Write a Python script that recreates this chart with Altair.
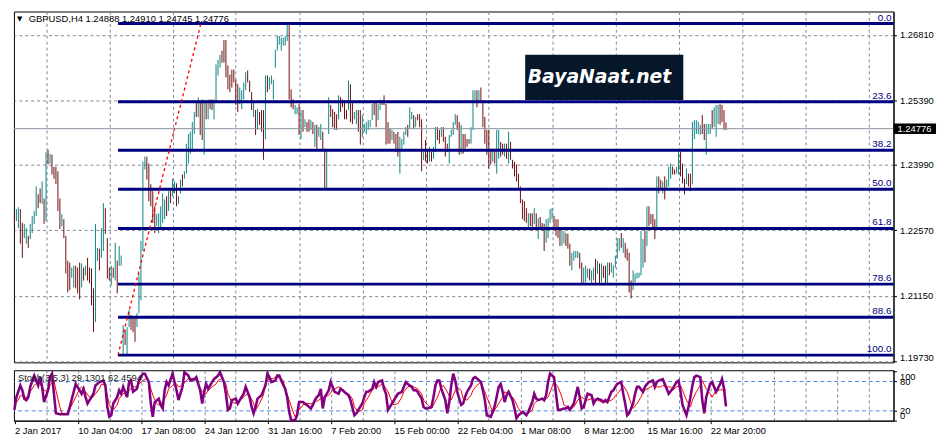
import altair as alt
import pandas as pd

# ---------------- data (GBPUSD H4) ----------------
highs = [
    1.2294, 1.2303, 1.2307, 1.2303, 1.2273, 1.2271, 1.2262, 1.2245, 1.2271, 1.2288,
    1.2299, 1.2352, 1.2335, 1.2348, 1.2363, 1.2326, 1.2427, 1.2432, 1.2423, 1.2421,
    1.2395, 1.2395, 1.2385, 1.2326, 1.2292, 1.2281, 1.2245, 1.2191, 1.2187, 1.2176,
    1.2180, 1.2180, 1.2176, 1.2187, 1.2185, 1.2176, 1.2180, 1.2197, 1.2176, 1.2174,
    1.2131, 1.2271, 1.2219, 1.2217, 1.2262, 1.2316, 1.2305, 1.2240, 1.2176, 1.2180,
    1.2176, 1.2230, 1.2191, 1.2223, 1.2202, 1.2051, 1.2041, 1.2047, 1.2084, 1.2073,
    1.2066, 1.2066, 1.2077, 1.2163, 1.2234, 1.2406, 1.2417, 1.2417, 1.2402, 1.2357,
    1.2342, 1.2309, 1.2292, 1.2294, 1.2309, 1.2337, 1.2324, 1.2331, 1.2342, 1.2346,
    1.2369, 1.2363, 1.2359, 1.2331, 1.2367, 1.2378, 1.2385, 1.2445, 1.2466, 1.2471,
    1.2492, 1.2514, 1.2535, 1.2546, 1.2535, 1.2541, 1.2535, 1.2539, 1.2541, 1.2541,
    1.2541, 1.2541, 1.2617, 1.2627, 1.2638, 1.2647, 1.2670, 1.2670, 1.2615, 1.2595,
    1.2606, 1.2606, 1.2584, 1.2574, 1.2567, 1.2561, 1.2578, 1.2600, 1.2604, 1.2582,
    1.2557, 1.2535, 1.2518, 1.2520, 1.2514, 1.2518, 1.2518, 1.2593, 1.2593, 1.2589,
    1.2593, 1.2584, 1.2649, 1.2679, 1.2679, 1.2675, 1.2675, 1.2679, 1.2703, 1.2705,
    1.2563, 1.2541, 1.2529, 1.2524, 1.2531, 1.2518, 1.2518, 1.2498, 1.2492, 1.2498,
    1.2496, 1.2492, 1.2486, 1.2486, 1.2481, 1.2488, 1.2471, 1.2434, 1.2434, 1.2546,
    1.2529, 1.2520, 1.2514, 1.2509, 1.2550, 1.2546, 1.2541, 1.2539, 1.2518, 1.2582,
    1.2574, 1.2535, 1.2514, 1.2518, 1.2518, 1.2518, 1.2507, 1.2488, 1.2492, 1.2496,
    1.2496, 1.2531, 1.2535, 1.2539, 1.2531, 1.2541, 1.2539, 1.2550, 1.2531, 1.2492,
    1.2477, 1.2475, 1.2471, 1.2466, 1.2471, 1.2460, 1.2455, 1.2471, 1.2481, 1.2486,
    1.2524, 1.2514, 1.2507, 1.2503, 1.2509, 1.2509, 1.2498, 1.2427, 1.2453, 1.2432,
    1.2438, 1.2427, 1.2438, 1.2481, 1.2481, 1.2475, 1.2481, 1.2481, 1.2460, 1.2445,
    1.2464, 1.2475, 1.2492, 1.2509, 1.2507, 1.2492, 1.2486, 1.2466, 1.2466, 1.2455,
    1.2455, 1.2481, 1.2561, 1.2561, 1.2561, 1.2561, 1.2567, 1.2539, 1.2503, 1.2475,
    1.2475, 1.2434, 1.2434, 1.2434, 1.2475, 1.2475, 1.2449, 1.2445, 1.2445, 1.2445,
    1.2471, 1.2449, 1.2410, 1.2406, 1.2400, 1.2380, 1.2352, 1.2324, 1.2320, 1.2305,
    1.2294, 1.2294, 1.2294, 1.2305, 1.2294, 1.2283, 1.2286, 1.2273, 1.2271, 1.2281,
    1.2283, 1.2303, 1.2305, 1.2288, 1.2281, 1.2281, 1.2262, 1.2256, 1.2256, 1.2251,
    1.2249, 1.2228, 1.2208, 1.2212, 1.2212, 1.2212, 1.2208, 1.2187, 1.2176, 1.2180,
    1.2174, 1.2174, 1.2170, 1.2176, 1.2195, 1.2191, 1.2185, 1.2185, 1.2180, 1.2180,
    1.2187, 1.2187, 1.2187, 1.2180, 1.2202, 1.2240, 1.2240, 1.2251, 1.2240, 1.2230,
    1.2217, 1.2208, 1.2148, 1.2170, 1.2163, 1.2165, 1.2165, 1.2256, 1.2238, 1.2256,
    1.2309, 1.2309, 1.2292, 1.2292, 1.2281, 1.2374, 1.2374, 1.2367, 1.2363, 1.2374,
    1.2367, 1.2395, 1.2402, 1.2395, 1.2389, 1.2395, 1.2434, 1.2427, 1.2402, 1.2369,
    1.2391, 1.2380, 1.2380, 1.2492, 1.2496, 1.2496, 1.2492, 1.2486, 1.2507, 1.2488,
    1.2488, 1.2488, 1.2488, 1.2518, 1.2524, 1.2529, 1.2529, 1.2531, 1.2529, 1.2518,
    1.2491,
]
lows = [
    1.2271, 1.2277, 1.2262, 1.2228, 1.2197, 1.2240, 1.2228, 1.2219, 1.2238, 1.2251,
    1.2271, 1.2288, 1.2305, 1.2316, 1.2314, 1.2271, 1.2277, 1.2400, 1.2402, 1.2378,
    1.2369, 1.2357, 1.2299, 1.2260, 1.2266, 1.2240, 1.2163, 1.2122, 1.2127, 1.2154,
    1.2133, 1.2131, 1.2120, 1.2107, 1.2133, 1.2148, 1.2159, 1.2148, 1.2142, 1.2094,
    1.2036, 1.2058, 1.2191, 1.2170, 1.2197, 1.2212, 1.2249, 1.2152, 1.2148, 1.2137,
    1.2154, 1.2148, 1.2120, 1.2180, 1.2180, 1.1989, 1.2008, 1.1985, 1.2047, 1.2041,
    1.2036, 1.2015, 1.2047, 1.2077, 1.2105, 1.2212, 1.2389, 1.2367, 1.2320, 1.2309,
    1.2273, 1.2251, 1.2266, 1.2251, 1.2260, 1.2273, 1.2281, 1.2288, 1.2299, 1.2316,
    1.2331, 1.2337, 1.2309, 1.2314, 1.2337, 1.2352, 1.2369, 1.2380, 1.2402, 1.2423,
    1.2432, 1.2466, 1.2503, 1.2503, 1.2464, 1.2453, 1.2421, 1.2498, 1.2498, 1.2520,
    1.2518, 1.2498, 1.2539, 1.2593, 1.2610, 1.2621, 1.2621, 1.2589, 1.2563, 1.2557,
    1.2567, 1.2578, 1.2529, 1.2514, 1.2531, 1.2520, 1.2541, 1.2561, 1.2578, 1.2557,
    1.2518, 1.2503, 1.2464, 1.2475, 1.2486, 1.2471, 1.2410, 1.2455, 1.2557, 1.2563,
    1.2574, 1.2541, 1.2610, 1.2647, 1.2660, 1.2647, 1.2658, 1.2658, 1.2668, 1.2541,
    1.2524, 1.2520, 1.2509, 1.2509, 1.2464, 1.2455, 1.2471, 1.2481, 1.2471, 1.2471,
    1.2475, 1.2466, 1.2438, 1.2434, 1.2460, 1.2453, 1.2432, 1.2348, 1.2348, 1.2466,
    1.2503, 1.2481, 1.2475, 1.2475, 1.2498, 1.2514, 1.2524, 1.2498, 1.2498, 1.2518,
    1.2492, 1.2488, 1.2498, 1.2488, 1.2471, 1.2443, 1.2460, 1.2471, 1.2466, 1.2475,
    1.2481, 1.2496, 1.2507, 1.2481, 1.2496, 1.2518, 1.2529, 1.2529, 1.2443, 1.2445,
    1.2445, 1.2453, 1.2445, 1.2427, 1.2417, 1.2380, 1.2434, 1.2443, 1.2464, 1.2460,
    1.2477, 1.2498, 1.2477, 1.2481, 1.2496, 1.2481, 1.2385, 1.2410, 1.2406, 1.2402,
    1.2406, 1.2406, 1.2412, 1.2427, 1.2453, 1.2445, 1.2460, 1.2449, 1.2417, 1.2427,
    1.2402, 1.2460, 1.2464, 1.2486, 1.2475, 1.2421, 1.2423, 1.2423, 1.2434, 1.2438,
    1.2445, 1.2445, 1.2475, 1.2535, 1.2524, 1.2535, 1.2535, 1.2481, 1.2445, 1.2421,
    1.2391, 1.2400, 1.2406, 1.2402, 1.2380, 1.2412, 1.2417, 1.2421, 1.2417, 1.2412,
    1.2402, 1.2410, 1.2391, 1.2374, 1.2363, 1.2346, 1.2316, 1.2281, 1.2277, 1.2273,
    1.2262, 1.2266, 1.2256, 1.2271, 1.2260, 1.2238, 1.2264, 1.2256, 1.2212, 1.2230,
    1.2240, 1.2273, 1.2281, 1.2262, 1.2245, 1.2240, 1.2223, 1.2223, 1.2228, 1.2223,
    1.2217, 1.2180, 1.2170, 1.2191, 1.2197, 1.2197, 1.2174, 1.2142, 1.2142, 1.2144,
    1.2154, 1.2148, 1.2142, 1.2148, 1.2142, 1.2163, 1.2142, 1.2144, 1.2154, 1.2142,
    1.2142, 1.2159, 1.2165, 1.2154, 1.2176, 1.2195, 1.2212, 1.2219, 1.2208, 1.2197,
    1.2191, 1.2122, 1.2109, 1.2127, 1.2144, 1.2152, 1.2154, 1.2159, 1.2176, 1.2187,
    1.2223, 1.2266, 1.2271, 1.2262, 1.2238, 1.2260, 1.2337, 1.2346, 1.2337, 1.2324,
    1.2346, 1.2352, 1.2369, 1.2378, 1.2378, 1.2380, 1.2378, 1.2374, 1.2359, 1.2335,
    1.2357, 1.2352, 1.2342, 1.2357, 1.2455, 1.2466, 1.2466, 1.2464, 1.2466, 1.2453,
    1.2421, 1.2466, 1.2466, 1.2477, 1.2481, 1.2460, 1.2488, 1.2486, 1.2492, 1.2475,
    1.24745,
]
# U = bullish bar, D = bearish bar
dirs = (
    "DUUDDUUDUU" "UUDDUDUDUD" "DDDDUDDDDU" "UDDDUDUDDD" "DUUDUUDDDU"
    "DUDUUUDUUD" "DDUUUUUDDD" "DDUUUUUDUD" "UUDUUDUUUU" "UUDUDDUDUD"
    "DUUUUDDDDD" "DDDDUUUUDD" "DUDUDDDUDU" "UUUUUUUUUD" "DDUUDUDUDD"
    "UDUDUUDDUU" "DDDDUDDDDU" "DDUUDDUUUU" "UUDDUUDDDD" "DUDDDUUUUD"
    "UUDUDDDUDD" "UDUUDDUDDD" "UUUUDDUDDD" "DUUUDUDDDD" "DDUDUUDDUD"
    "UDDDDDDDDD" "UDDUDUDDDU" "UUUDDDDUUD" "DDUUUUDDUU" "UDUUDUDUDD"
    "UDUUUUUDUD" "DDDUUUUUUD" "UDDDDUDDUD" "UUUDDUUDDD" "UDDUUUUUDD"
    "UUUDUUUDDDD"
)

# Stochastic %K (bar index, value) and %D (bar index, value)
k_idx = [0, 1, 3, 4, 5, 6, 7, 8, 10, 11, 12, 13, 14, 15, 17, 18, 19, 20, 21, 23, 27, 28, 30, 31, 33, 34, 35, 36, 37, 38,
         40, 41, 43, 45, 46, 47, 48, 49, 50, 52, 53, 54, 55, 57, 58, 59, 60, 62, 63, 65, 66, 68, 69, 70, 71, 73, 74, 75, 76, 77,
         78, 80, 81, 82, 83, 85, 86, 88, 89, 91, 92, 94, 95, 96, 97, 98, 100, 101, 103, 104, 106, 107, 108, 109, 110, 112, 113, 114, 116, 117,
         119, 120, 121, 122, 123, 125, 127, 128, 129, 130, 132, 133, 134, 135, 137, 138, 139, 140, 142, 143, 144, 146, 147, 148, 150, 151, 152, 153, 154, 155,
         156, 157, 159, 160, 161, 162, 164, 165, 166, 168, 169, 170, 172, 173, 174, 176, 177, 178, 179, 181, 182, 183, 184, 186, 187, 188, 189, 191, 192, 193,
         194, 196, 197, 198, 199, 201, 202, 203, 204, 206, 207, 208, 209, 211, 212, 213, 214, 215, 216, 218, 219, 220, 221, 222, 223, 224, 226, 227, 228, 229,
         231, 232, 233, 234, 236, 237, 238, 239, 241, 242, 243, 245, 246, 247, 248, 249, 250, 252, 253, 254, 255, 257, 258, 259, 260, 262, 263, 264, 265, 267,
         268, 269, 270, 271, 273, 274, 275, 276, 278, 279, 280, 281, 283, 284, 285, 286, 287, 288, 289, 290, 292, 293, 294, 295, 297, 298, 299, 300, 302, 303,
         304, 305, 307, 308, 309, 310, 311, 313, 314, 315, 316, 318, 319, 320, 321, 323, 324, 325, 326, 328, 329, 330, 331, 333, 334, 335, 336, 337, 338, 340,
         341, 342, 343, 344, 345, 347, 348, 349, 350, 352, 353, 354, 355, 357, 358, 359, 360]
k_val = [22, 48, 72, 62, 45, 42, 48, 69, 92, 82, 72, 89, 69, 38, 62, 89, 96, 55, 15, 13, 13, 28, 59, 75, 62, 55, 65, 48, 35, 42,
         55, 72, 79, 82, 72, 28, 8, 11, 35, 48, 62, 55, 69, 48, 79, 82, 59, 65, 82, 96, 96, 79, 35, 8, 38, 45, 32, 25, 62, 79,
         72, 96, 79, 62, 42, 69, 99, 92, 82, 85, 89, 62, 35, 59, 75, 65, 79, 85, 92, 99, 79, 55, 22, 25, 42, 45, 35, 42, 55, 69,
         48, 28, 15, 28, 45, 52, 72, 96, 89, 79, 82, 92, 92, 82, 65, 48, 18, 1, 1, 11, 38, 38, 34, 32, 25, 32, 42, 48, 52, 65,
         25, 48, 62, 79, 69, 59, 55, 65, 62, 55, 52, 42, 11, 15, 22, 35, 48, 59, 59, 65, 79, 69, 79, 82, 65, 55, 22, 35, 42, 48,
         55, 59, 69, 79, 75, 69, 62, 62, 59, 45, 28, 25, 25, 28, 48, 72, 82, 82, 65, 42, 15, 38, 72, 96, 82, 59, 32, 35, 48, 59,
         72, 86, 89, 86, 79, 62, 42, 11, 8, 18, 30, 69, 75, 59, 38, 52, 59, 42, 25, 5, 11, 18, 15, 11, 18, 38, 55, 45, 42, 45,
         42, 52, 79, 96, 89, 55, 22, 22, 25, 25, 28, 22, 35, 52, 69, 48, 25, 28, 42, 55, 52, 35, 42, 45, 42, 38, 42, 38, 59, 62,
         69, 75, 79, 55, 35, 11, 15, 35, 55, 69, 69, 59, 69, 75, 79, 82, 69, 79, 82, 85, 75, 65, 55, 65, 72, 79, 82, 59, 32, 11,
         28, 48, 72, 89, 92, 89, 42, 15, 48, 75, 79, 69, 59, 75, 85, 65, 29.1301]
d_idx = [0, 2, 3, 5, 7, 8, 10, 12, 13, 15, 17, 18, 20, 21, 23, 24, 27, 29, 31, 33, 34, 36, 38, 39, 41, 43, 44, 46, 47, 48,
         50, 52, 53, 55, 57, 58, 60, 62, 63, 65, 67, 68, 70, 72, 73, 75, 77, 78, 80, 82, 83, 85, 87, 88, 90, 92, 93, 95, 97, 98,
         100, 102, 103, 105, 107, 108, 110, 112, 113, 115, 117, 118, 120, 121, 122, 124, 126, 127, 129, 131, 132, 134, 136, 137, 139, 141, 142, 144, 146, 147,
         149, 151, 152, 154, 156, 157, 159, 161, 162, 164, 166, 167, 169, 171, 172, 174, 176, 177, 179, 181, 182, 184, 186, 187, 189, 191, 192, 194, 196, 197,
         199, 201, 202, 204, 206, 207, 209, 211, 212, 214, 216, 217, 219, 221, 222, 224, 226, 227, 229, 231, 232, 234, 236, 237, 239, 241, 242, 243, 245, 247,
         248, 250, 252, 253, 255, 257, 258, 260, 262, 263, 265, 267, 268, 270, 272, 273, 275, 277, 278, 280, 282, 283, 285, 287, 288, 290, 292, 293, 295, 297,
         298, 300, 302, 303, 305, 307, 308, 310, 312, 313, 315, 317, 318, 320, 322, 323, 325, 327, 328, 330, 332, 333, 335, 337, 338, 340, 342, 343, 345, 347,
         348, 350, 352, 353, 355, 357, 358, 360]
d_val = [35, 42, 52, 48, 48, 59, 72, 79, 75, 62, 59, 72, 82, 62, 28, 15, 15, 32, 48, 65, 69, 59, 48, 45, 55, 65, 75, 72, 52, 32,
         22, 32, 45, 55, 59, 62, 69, 69, 75, 82, 86, 79, 52, 35, 32, 38, 52, 65, 72, 75, 69, 72, 82, 86, 86, 82, 72, 59, 55, 62,
         69, 75, 82, 86, 75, 55, 38, 35, 38, 45, 52, 55, 45, 35, 22, 35, 52, 75, 86, 86, 89, 89, 82, 65, 42, 18, 8, 22, 32, 36,
         35, 34, 38, 42, 48, 48, 52, 62, 65, 69, 65, 59, 55, 45, 28, 18, 22, 35, 48, 62, 67, 69, 75, 72, 59, 38, 32, 35, 48, 59,
         69, 72, 69, 65, 55, 42, 32, 25, 32, 48, 69, 72, 59, 42, 52, 69, 62, 45, 42, 52, 62, 72, 79, 69, 48, 28, 15, 22, 35, 48,
         59, 55, 48, 42, 25, 15, 15, 15, 22, 35, 42, 45, 42, 48, 69, 79, 69, 48, 32, 28, 25, 28, 42, 48, 45, 42, 45, 45, 42, 38,
         38, 38, 42, 45, 55, 65, 72, 59, 35, 25, 35, 48, 59, 65, 69, 72, 69, 69, 72, 69, 69, 62, 69, 72, 62, 42, 28, 42, 59, 72,
         82, 65, 55, 48, 62, 63, 63, 62.4594]

# Fibonacci retracement (anchored on the 16 Jan low and the 24/31 Jan high)
fib_labels = ["0.0", "23.6", "38.2", "50.0", "61.8", "78.6", "88.6", "100.0"]
fib_prices = [1.2706, 1.25361, 1.24310, 1.2346, 1.22610, 1.21401, 1.20681, 1.1986]
fib_from_bar = 52.4
trend_bars = [52.4, 94.35]
trend_prices = [1.1986, 1.2706]

price_ticks = [1.26810, 1.26110, 1.25390, 1.24690, 1.23990, 1.23270,
               1.22570, 1.21850, 1.21150, 1.20430, 1.19730]
time_labels = ["2 Jan 2017", "10 Jan 04:00", "17 Jan 08:00", "24 Jan 12:00",
               "31 Jan 16:00", "7 Feb 20:00", "15 Feb 00:00", "22 Feb 04:00",
               "1 Mar 08:00", "8 Mar 12:00", "15 Mar 16:00", "22 Mar 20:00"]
last_price = 1.24776
title_text = "GBPUSD,H4  1.24888 1.24910 1.24745 1.24776"
stoch_text = "Stoch(3,5,3) 29.1301 62.4594"
stoch_levels = [20, 80]

# ---------------- styling ----------------
TEAL = "#0f8484"
MAROON = "#6e0c0c"
NAVY = "#000080"
GRID = "#7a8696"
FONT = "Liberation Sans"
W = 890
X0, X1 = -0.25, 444.75
P0, P1 = 1.19703, 1.2732

bars = pd.DataFrame({"i": list(range(len(highs))), "high": highs, "low": lows, "dir": list(dirs)})
fib = pd.DataFrame({"price": fib_prices, "label": fib_labels})
trend = pd.DataFrame({"i": trend_bars, "price": trend_prices})
kdf = pd.DataFrame({"i": k_idx, "v": k_val})
ddf = pd.DataFrame({"i": d_idx, "v": d_val})
lvl = pd.DataFrame({"v": stoch_levels})

grid_idx = [g for g in range(16, 445, 16)]
xsc = alt.Scale(domain=[X0, X1], nice=False, zero=False)
ysc = alt.Scale(domain=[P0, P1], nice=False, zero=False)

xax = alt.Axis(values=grid_idx, grid=True, gridDash=[3, 3], gridColor=GRID, gridWidth=1,
               labels=False, ticks=False, domain=False, title=None, labelFlush=False)
yax = alt.Axis(orient="right", values=price_ticks, grid=True, gridDash=[3, 3], gridColor=GRID,
               format=".5f", labelFont=FONT, labelFontSize=9.5, labelColor="black",
               tickColor="black", tickSize=3, domainColor="black", labelPadding=3,
               labelFlush=2, labelFlushOffset=1, title=None)


def X(f):
    return alt.X(f, type="quantitative", scale=xsc, axis=xax)


def Y(f):
    return alt.Y(f, type="quantitative", scale=ysc, axis=yax)


bar_layer = alt.Chart(bars).mark_rule(strokeWidth=1).encode(
    x=X("i"), y=Y("low"), y2="high",
    color=alt.Color("dir:N", scale=alt.Scale(domain=["U", "D"], range=[TEAL, MAROON]), legend=None),
)
fib_rules = alt.Chart(fib).mark_rule(color=NAVY, strokeWidth=3).encode(
    x=alt.datum(fib_from_bar), x2=alt.datum(X1), y=Y("price"))
fib_text = alt.Chart(fib).mark_text(align="right", baseline="alphabetic", dx=-2, dy=-3,
                                    color=NAVY, font=FONT, fontSize=10).encode(
    x=alt.datum(X1), y=Y("price"), text="label:N")
trend_line = alt.Chart(trend).mark_line(color="red", strokeWidth=1.3, strokeDash=[3, 3]).encode(
    x=X("i"), y=Y("price"))
bid_rule = alt.Chart(pd.DataFrame({"p": [last_price]})).mark_rule(color="#8894a0", strokeWidth=1).encode(
    y=Y("p"))
box = alt.Chart(pd.DataFrame({"p": [last_price]})).mark_rect(color="black").encode(
    x=alt.datum(X1), x2=alt.datum(X1 + 21.5),
    y=alt.datum(last_price + 0.00115), y2=alt.datum(last_price - 0.00115))
box_text = alt.Chart(pd.DataFrame({"p": [last_price]})).mark_text(
    align="left", baseline="middle", dx=4, color="white", font=FONT, fontSize=9.5,
    text="%.5f" % last_price).encode(x=alt.datum(X1), y=alt.datum(last_price))
logo_rect = alt.Chart(pd.DataFrame({"a": [0]})).mark_rect(color="#06172a").encode(
    x=alt.datum(258.4), x2=alt.datum(338.4), y=alt.datum(1.2638), y2=alt.datum(1.2540))
logo_text = alt.Chart(pd.DataFrame({"a": [0]})).mark_text(
    text="BayaNaat.net", color="white", font="DejaVu Sans", fontSize=19, fontWeight="bold",
    fontStyle="italic", align="center", baseline="middle").encode(
    x=alt.datum(296.0), y=alt.datum(1.2589))
tri = alt.Chart(pd.DataFrame({"a": [0]})).mark_text(
    text="\u25bc", font="DejaVu Sans", fontSize=7, color="black", align="left", baseline="middle").encode(
    x=alt.value(3), y=alt.value(8))
title = alt.Chart(pd.DataFrame({"a": [0]})).mark_text(
    text=title_text, font=FONT, fontSize=9.5, color="black", align="left", baseline="middle").encode(
    x=alt.value(15), y=alt.value(8))

main = alt.layer(bar_layer, fib_rules, trend_line, bid_rule, fib_text, logo_rect, logo_text,
                 box, box_text, tri, title).properties(width=W, height=355)

# ---------------- stochastic panel ----------------
lab_arr = "[" + ",".join("'" + t + "'" for t in time_labels) + "]"
label_expr = "datum.value % 32 === 0 ? (" + lab_arr + "[datum.value / 32] || '') : ''"
sx_vals = [0] + grid_idx
sxax = alt.Axis(values=sx_vals, grid=True, gridDash=[3, 3], gridColor=GRID,
                gridOpacity={"condition": {"test": "datum.value === 0", "value": 0}, "value": 1},
                labelExpr=label_expr,
                labelAlign="left", labelFont=FONT, labelFontSize=9.5, labelColor="black",
                labelFlush=False, labelPadding=2, tickSize=3, tickColor="black",
                tickOpacity={"condition": {"test": "datum.value % 32 === 0 && datum.value <= 352", "value": 1},
                             "value": 0},
                domainColor="black", title=None, labelOverlap=False)
ssc_x = alt.Scale(domain=[X0, X1], nice=False, zero=False)
ssc_y = alt.Scale(domain=[0, 103], nice=False, zero=False)
syax = alt.Axis(orient="right", values=[0, 20, 80, 100], grid=False, labelFont=FONT, labelFontSize=9.5,
                labelColor="black", tickSize=3, tickColor="black", domainColor="black",
                labelFlush=3, labelPadding=3, title=None, labelOverlap=False)


def SX(f):
    return alt.X(f, type="quantitative", scale=ssc_x, axis=sxax)


def SY(f):
    return alt.Y(f, type="quantitative", scale=ssc_y, axis=syax)


lvl_rules = alt.Chart(lvl).mark_rule(color="#4f86e6", strokeDash=[4, 3], strokeWidth=1).encode(y=SY("v"))
d_line = alt.Chart(ddf).mark_line(color="#ff0000", strokeWidth=1).encode(x=SX("i"), y=SY("v"))
k_line = alt.Chart(kdf).mark_line(color="#800080", strokeWidth=2.6).encode(x=SX("i"), y=SY("v"))
s_text = alt.Chart(pd.DataFrame({"a": [0]})).mark_text(
    text=stoch_text, font=FONT, fontSize=9.5, color="#1a1a1a", align="left", baseline="middle").encode(
    x=alt.value(4), y=alt.value(8))

stoch = alt.layer(lvl_rules, d_line, k_line, s_text).properties(width=W, height=51)

chart = (
    alt.vconcat(main, stoch, spacing=3)
    .resolve_scale(x="independent", y="independent")
    .properties(padding=0, background="white")
    .configure_view(stroke="black", strokeWidth=1)
)

chart.save("out.html", embed_options={"renderer": "svg", "actions": False})
